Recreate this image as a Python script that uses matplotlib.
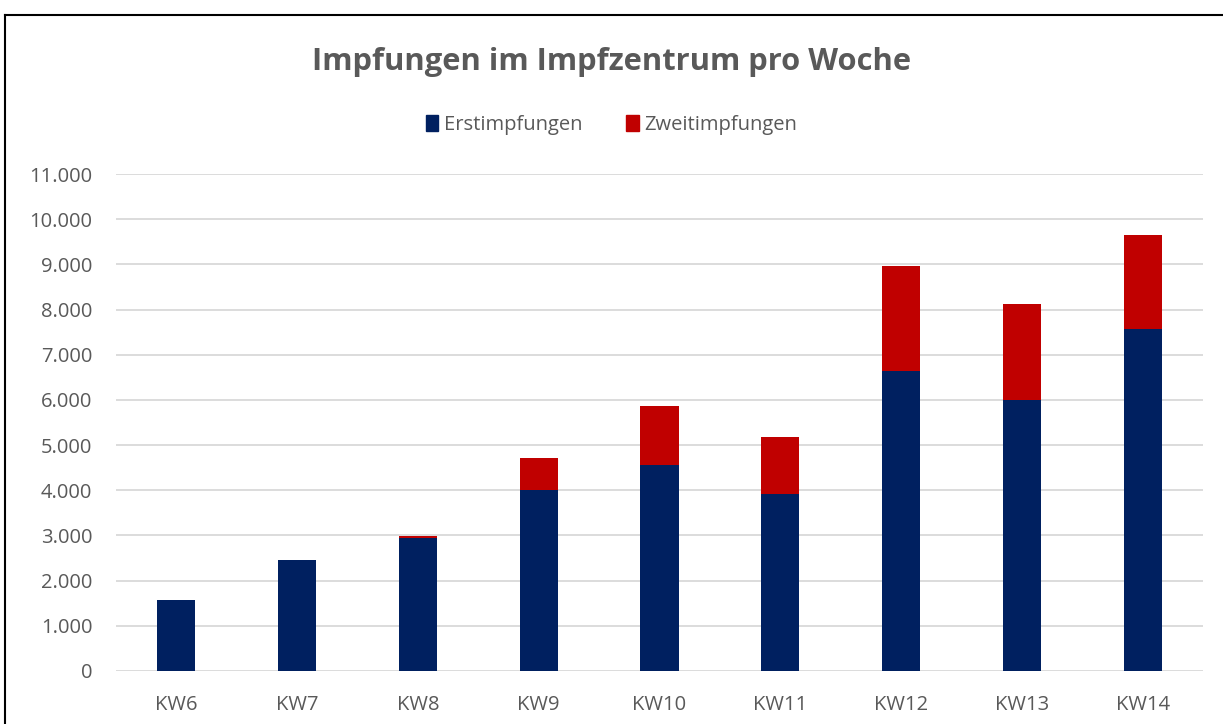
import matplotlib.pyplot as plt
from matplotlib.lines import Line2D
from matplotlib.patches import Patch
from matplotlib.ticker import FuncFormatter
import numpy as np

# weekly vaccinations
weeks = ["KW6", "KW7", "KW8", "KW9", "KW10", "KW11", "KW12", "KW13", "KW14"]
erstimpfungen = [1570, 2450, 2950, 4000, 4555, 3920, 6630, 6005, 7570]
zweitimpfungen = [0, 0, 30, 705, 1310, 1260, 2340, 2115, 2080]

blue = "#002060"
red = "#C00000"
grey_text = "#595959"

plt.rcParams['font.family'] = ['Open Sans', 'DejaVu Sans']

fig = plt.figure(figsize=(12.23, 7.24), dpi=100)
ax = fig.add_axes([116 / 1223, 1 - 671 / 724, (1203 - 116) / 1223, (671 - 174) / 724])

x = np.arange(len(weeks))
ax.bar(x, erstimpfungen, width=0.315, color=blue, zorder=3)
ax.bar(x, zweitimpfungen, width=0.315, bottom=erstimpfungen, color=red, zorder=3)

ax.set_xlim(-0.5, len(weeks) - 0.5)
ax.set_ylim(0, 11000)
ax.set_yticks(range(0, 11001, 1000))
ax.yaxis.set_major_formatter(FuncFormatter(lambda v, p: f"{int(v):,}".replace(",", ".")))
ax.set_xticks(x)
ax.set_xticklabels(weeks)
ax.grid(axis='y', color="#D9D9D9", linewidth=1.3, zorder=0)
for s in ax.spines.values():
    s.set_visible(False)
ax.tick_params(axis='both', length=0, labelsize=14.5, colors=grey_text)
ax.tick_params(axis='y', pad=17)
ax.tick_params(axis='x', pad=17)

fig.text(0.5, 1 - 62 / 724, "Impfungen im Impfzentrum pro Woche", ha='center', va='center',
         fontsize=22.2, fontweight='bold', color=grey_text)

handles = [Patch(color=blue, label="Erstimpfungen"), Patch(color=red, label="Zweitimpfungen")]
fig.legend(handles=handles, loc='center', bbox_to_anchor=(0.5, 1 - 125 / 724), ncol=2,
           frameon=False, fontsize=14.5, labelcolor=grey_text, handlelength=0.6,
           handleheight=0.8, handletextpad=0.3, columnspacing=2.2)

# chart frame (left and top edges visible)
fig.add_artist(Line2D([4.5 / 1223, 4.5 / 1223], [0, 1 - 15 / 724], color='black', linewidth=1.5))
fig.add_artist(Line2D([4.5 / 1223, 1], [1 - 15 / 724, 1 - 15 / 724], color='black', linewidth=1.5))

fig.savefig("out.png", dpi=100)
